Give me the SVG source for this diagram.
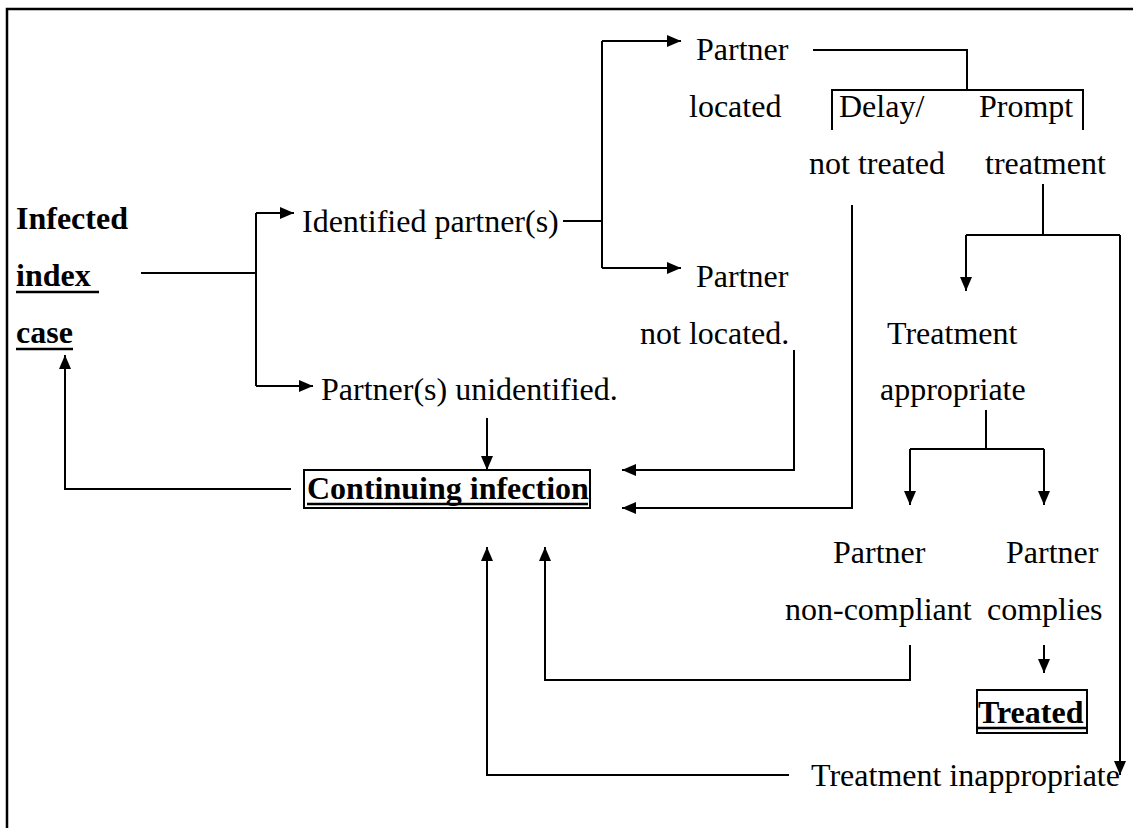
<svg xmlns="http://www.w3.org/2000/svg" width="1133" height="828" viewBox="0 0 1133 828">
<style>
  text { font-family: "Liberation Serif", "Times New Roman", serif; font-size: 32px; fill: #000; }
  .b { font-weight: bold; }
  .ln { fill: none; stroke: #000; stroke-width: 2; }
  .ul { stroke: #000; stroke-width: 2.5; }
  .box { fill: none; stroke: #000; stroke-width: 2; }
</style>
<defs>
  <marker id="ah" viewBox="0 0 14 12" refX="14" refY="6" markerWidth="14" markerHeight="12" markerUnits="userSpaceOnUse" orient="auto">
    <path d="M0,0 L14,6 L0,12 z" fill="#000"/>
  </marker>
</defs>
<rect x="0" y="0" width="1133" height="828" fill="#fff"/>
<path d="M7 828 V9 H1133" fill="none" stroke="#000" stroke-width="2.5"/>

<g id="connectors">
  <path class="ln" d="M141 273 H256"/>
  <path class="ln" d="M256 213 V386"/>
  <path class="ln" d="M256 213 H294" marker-end="url(#ah)"/>
  <path class="ln" d="M256 386 H313" marker-end="url(#ah)"/>
  <path class="ln" d="M563 221 H602"/>
  <path class="ln" d="M602 41 V268"/>
  <path class="ln" d="M602 41 H681" marker-end="url(#ah)"/>
  <path class="ln" d="M602 268 H681" marker-end="url(#ah)"/>
  <path class="ln" d="M813 50 H967 V90"/>
  <path class="ln" d="M832 130 V90 H1083 V130"/>
  <path class="ln" d="M852 205 V508 H622" marker-end="url(#ah)"/>
  <path class="ln" d="M794 350 V470 H622" marker-end="url(#ah)"/>
  <path class="ln" d="M1043 184 V235"/>
  <path class="ln" d="M966 235 H1120"/>
  <path class="ln" d="M966 235 V291" marker-end="url(#ah)"/>
  <path class="ln" d="M1120 235 V775" marker-end="url(#ah)"/>
  <path class="ln" d="M986 410 V449"/>
  <path class="ln" d="M910 449 H1044"/>
  <path class="ln" d="M910 449 V505" marker-end="url(#ah)"/>
  <path class="ln" d="M1044 449 V505" marker-end="url(#ah)"/>
  <path class="ln" d="M487 418 V470" marker-end="url(#ah)"/>
  <path class="ln" d="M291 489 H65 V355" marker-end="url(#ah)"/>
  <path class="ln" d="M910 645 V680 H545 V547" marker-end="url(#ah)"/>
  <path class="ln" d="M1044 645 V673" marker-end="url(#ah)"/>
  <path class="ln" d="M789 775 H487 V547" marker-end="url(#ah)"/>
</g>

<g id="index-case">
  <text class="b" x="16" y="229">Infected</text>
  <text class="b" x="16" y="286">index</text>
  <line class="ul" x1="16" y1="292" x2="99" y2="292"/>
  <text class="b" x="16" y="343">case</text>
  <line class="ul" x1="16" y1="349" x2="73" y2="349"/>
</g>
<g id="identified"><text x="302" y="232">Identified partner(s)</text></g>
<g id="unidentified"><text x="321" y="400">Partner(s) unidentified.</text></g>
<g id="partner-located">
  <text x="696" y="60">Partner</text>
  <text x="689" y="117">located</text>
</g>
<g id="delay"><text x="839" y="117">Delay/</text><text x="809" y="174">not treated</text></g>
<g id="prompt"><text x="979" y="117">Prompt</text><text x="985" y="174">treatment</text></g>
<g id="partner-not-located">
  <text x="696" y="287">Partner</text>
  <text x="640" y="344">not located.</text>
</g>
<g id="treatment-appropriate">
  <text x="887" y="344">Treatment</text>
  <text x="880" y="400">appropriate</text>
</g>
<g id="continuing-infection">
  <rect class="box" x="304" y="470" width="286" height="38"/>
  <text class="b" x="307" y="499">Continuing infection</text>
  <line class="ul" x1="307" y1="504" x2="588" y2="504"/>
</g>
<g id="non-compliant">
  <text x="833" y="563">Partner</text>
  <text x="785" y="620">non-compliant</text>
</g>
<g id="complies">
  <text x="1006" y="563">Partner</text>
  <text x="987" y="620">complies</text>
</g>
<g id="treated">
  <rect class="box" x="977" y="690" width="110" height="43"/>
  <text class="b" x="978" y="723">Treated</text>
  <line class="ul" x1="978" y1="728" x2="1086" y2="728"/>
</g>
<g id="treatment-inappropriate"><text x="811" y="786">Treatment inappropriate</text></g>
</svg>
